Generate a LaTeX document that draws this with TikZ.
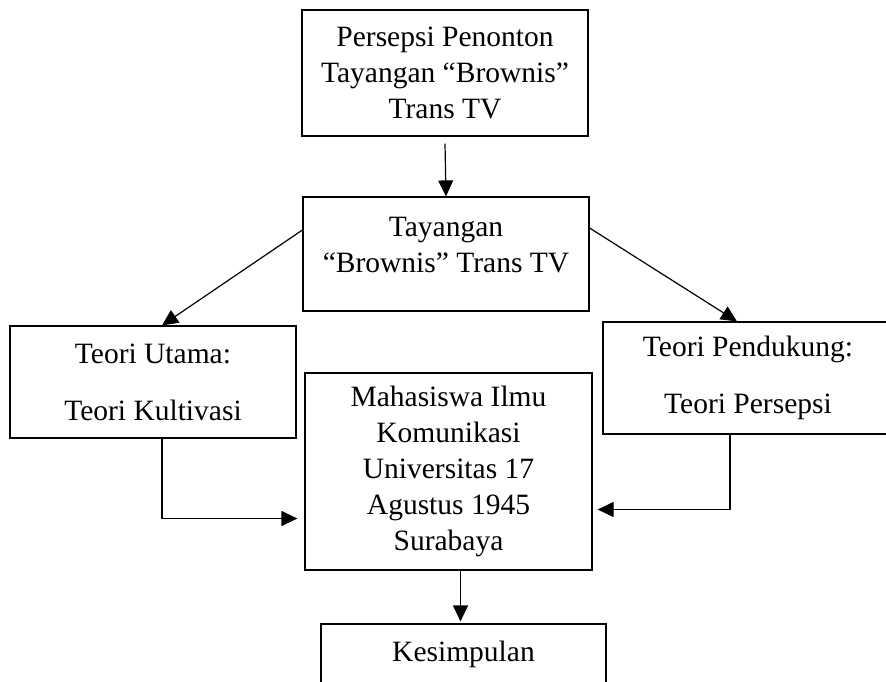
\documentclass[tikz,border=0pt]{standalone}
\usepackage{fontspec}
\setmainfont{Liberation Serif}
\usetikzlibrary{arrows.meta}
\tikzset{kotak/.style={draw,line width=1.2pt,align=center,inner sep=0pt,font=\fontsize{29.5}{36}\selectfont}}
\begin{document}
\begin{tikzpicture}[x=1pt,y=-1pt,line width=1.2pt,>={Triangle[length=16pt,width=15pt]}]
	\useasboundingbox (0,0) rectangle (886,681);
	\clip (0,0) rectangle (886,681);
	\node[kotak,minimum width=286pt,minimum height=126pt] (persepsi) at (445,73) {Persepsi Penonton\\Tayangan “Brownis”\\Trans TV};
	\node[kotak,minimum width=286pt,minimum height=114pt] (tayangan) at (446,254) {Tayangan\\“Brownis” Trans TV\\[-17pt]\mbox{}};
	\node[kotak,minimum width=286pt,minimum height=112pt] (utama) at (153,382) {Teori Utama:\\[21pt]Teori Kultivasi};
	\node[kotak,minimum width=290pt,minimum height=112pt] (pendukung) at (748,378) {Teori Pendukung:\\[21pt]Teori Persepsi};
	\node[kotak,minimum width=287pt,minimum height=197pt] (mahasiswa) at (448.5,471.5) {Mahasiswa Ilmu\\Komunikasi\\Universitas 17\\Agustus 1945\\Surabaya};
	\node[kotak,minimum width=285pt,minimum height=60pt] (kesimpulan) at (463.5,654) {Kesimpulan};
	% panah
	\draw[->] ([yshift=-7pt]persepsi.south) -- (tayangan.north);
	\draw[->] ([yshift=24pt]tayangan.west) -- ([xshift=9pt]utama.north);
	\draw[->] ([yshift=26pt]tayangan.east) -- ([xshift=-11pt]pendukung.north);
	\draw[->] ([xshift=9pt]utama.south) |- ([xshift=-7pt,yshift=-47pt]mahasiswa.west);
	\draw[->] ([xshift=-18pt]pendukung.south) |- ([xshift=5pt,yshift=-38pt]mahasiswa.east);
	\draw[->] ([xshift=-3pt]kesimpulan.north |- mahasiswa.south) -- ([xshift=-3pt,yshift=2pt]kesimpulan.north);
\end{tikzpicture}
\end{document}
